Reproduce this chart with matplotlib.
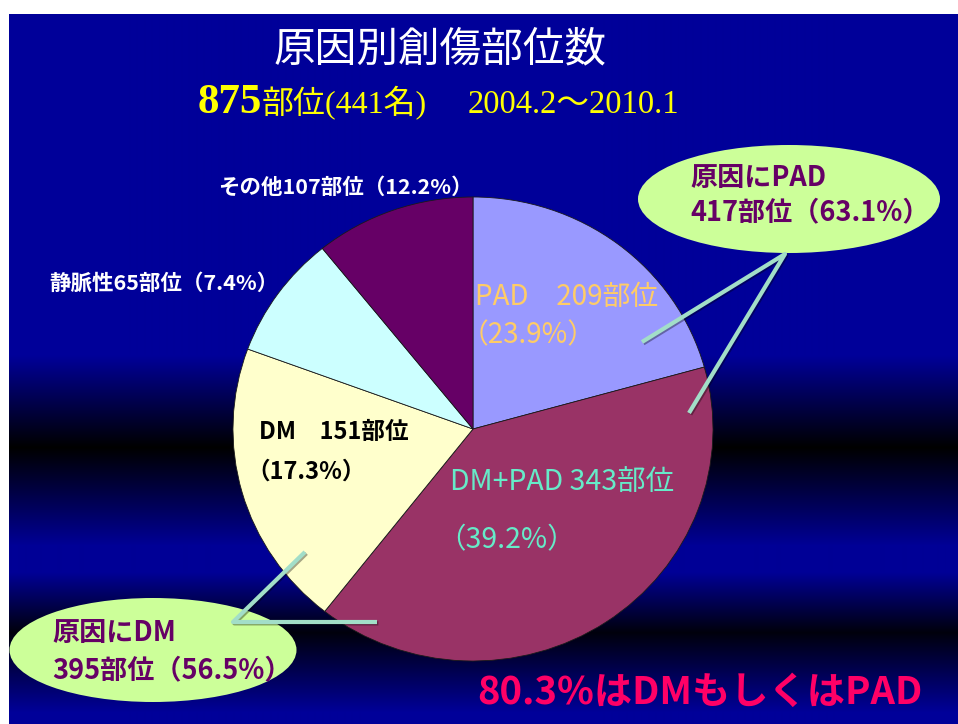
import numpy as np
import matplotlib
matplotlib.use('Agg')
import matplotlib.pyplot as plt
import matplotlib.patheffects as pe
from matplotlib.patches import Ellipse

plt.rcParams['font.family'] = ['Noto Sans CJK JP', 'DejaVu Sans']
SERIF = ['Liberation Serif', 'Noto Sans CJK JP']

W, H = 958, 724

# data
causes = ['PAD', 'DM+PAD', 'DM', '静脈性', 'その他']
sites = [209, 343, 151, 65, 107]
pcts = [23.9, 39.2, 17.3, 7.4, 12.2]
# slice sizes (%) as they are drawn in the picture, which do not follow the counts exactly
drawn_share = [20.7, 39.9, 20.0, 8.6, 10.8]
colors = ['#9999FF', '#993366', '#FFFFCC', '#CCFFFF', '#660066']

total_sites, total_patients = 875, 441
period = '2004.2～2010.1'
pad_cause = (417, 63.1)
dm_cause = (395, 56.5)
dm_or_pad = 80.3

fig = plt.figure(figsize=(W / 100, H / 100), dpi=100)
fig.patch.set_facecolor('white')

# background: navy with dark bands
rows = np.arange(14, H)
stop_y = [14, 355, 447, 545, 572, 632, 712, 724]
stop_b = [153, 153, 0, 150, 150, 12, 153, 153]
img = np.zeros((len(rows), 2, 3))
img[:, :, 2] = (np.interp(rows, stop_y, stop_b) / 255.0)[:, None]
bg = fig.add_axes([9 / W, 0, 1 - 9 / W, (H - 14) / H])
bg.imshow(img, aspect='auto', interpolation='bilinear')
bg.axis('off')

# pie (slightly wider than tall, as in the slide)
pax = fig.add_axes([233 / W, (H - 661) / H, 480 / W, 464 / H])
wedges, _ = pax.pie(drawn_share, colors=colors, startangle=90, counterclock=False,
                    radius=1, wedgeprops=dict(edgecolor='#1a1a1a', linewidth=0.6))
for w in wedges:
    w.set_clip_on(False)
pax.set_xlim(-1, 1)
pax.set_ylim(-1, 1)
pax.set_aspect('auto')
pax.axis('off')

# overlay in pixel coordinates
ax = fig.add_axes([0, 0, 1, 1])
ax.set_xlim(0, W)
ax.set_ylim(H, 0)
ax.axis('off')

ax.text(440, 50, '原因別創傷部位数', color='white', fontsize=30, ha='center', va='center')
ax.text(198, 113, str(total_sites), family=SERIF, weight='bold', fontsize=31,
        color='#FFFF00', va='baseline')
ax.text(262, 113, '部位(%d名)' % total_patients, family=SERIF, fontsize=23,
        color='#FFFF00', va='baseline')
ax.text(468, 113, period, family=SERIF, fontsize=23.5, color='#FFFF00', va='baseline')

# slice labels
def lab(i):
    return '%s%d部位（%.1f%%）' % (causes[i], sites[i], pcts[i])

ax.text(218, 187, lab(4), color='white', fontsize=15.5, weight='bold', va='center')
ax.text(49, 283, lab(3), color='white', fontsize=15.5, weight='bold', va='center')

ax.text(475, 297, '%s　%d部位' % (causes[0], sites[0]), color='#FFCC66', fontsize=20, va='center')
ax.text(461, 335, '（%.1f%%）' % pcts[0], color='#FFCC66', fontsize=20, va='center')

ax.text(259, 432, '%s　%d部位' % (causes[2], sites[2]), color='black', fontsize=17,
        weight='bold', va='center')
ax.text(246, 472, '（%.1f%%）' % pcts[2], color='black', fontsize=17, weight='bold', va='center')

ax.text(450, 482, '%s %d部位' % (causes[1], sites[1]), color='#66EBC8', fontsize=20.5, va='center')
ax.text(437, 540, '（%.1f%%）' % pcts[1], color='#66EBC8', fontsize=20.5, va='center')

# callouts
line_kw = dict(color='#A2DEC8', lw=3, solid_capstyle='butt', zorder=3,
               path_effects=[pe.SimpleLineShadow(offset=(1, -1), alpha=0.35), pe.Normal()])
ax.plot([642, 785, 689], [342, 254, 413], **line_kw)
ax.plot([305, 233, 377], [552, 622, 622], **line_kw)

ax.add_patch(Ellipse((789, 199), 302, 108, facecolor='#CCFF99', edgecolor='none', zorder=2))
ax.add_patch(Ellipse((153, 650), 287, 104, facecolor='#CCFF99', edgecolor='none', zorder=2))

ax.text(690, 178, '原因にPAD', color='#660066', fontsize=19.5, weight='bold', va='center', zorder=4)
ax.text(690, 212, '%d部位（%.1f%%）' % pad_cause, color='#660066', fontsize=19.5,
        weight='bold', va='center', zorder=4)
ax.text(52, 633, '原因にDM', color='#660066', fontsize=19.5, weight='bold', va='center', zorder=4)
ax.text(52, 670, '%d部位（%.1f%%）' % dm_cause, color='#660066', fontsize=19.5,
        weight='bold', va='center', zorder=4)

ax.text(477, 692, '%.1f%%はDMもしくはPAD' % dm_or_pad, color='#FF0066', fontsize=27.5,
        weight='bold', va='center')

fig.savefig('out.png', dpi=100)
